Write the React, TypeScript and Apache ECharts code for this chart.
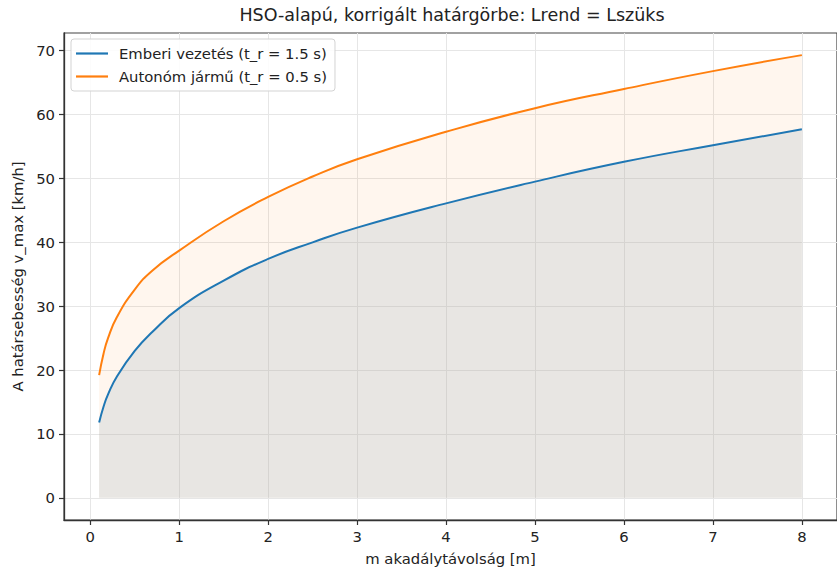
import React, { useEffect, useRef } from "react";
import * as echarts from "echarts";

// ---- data ----
const distances = [0.1, 0.15, 0.2, 0.3, 0.5, 0.7, 1, 1.5, 2, 2.5, 3, 4, 5, 6, 7, 8];
const humanSpeeds = [11.8, 14.3, 16.2, 19.0, 23.0, 26.0, 29.7, 34.0, 37.4, 40.0, 42.3, 46.1, 49.5, 52.6, 55.2, 57.7];
const autoSpeeds = [19.2, 22.6, 25.0, 28.3, 32.6, 35.6, 38.7, 43.3, 47.1, 50.3, 53.0, 57.3, 61.0, 64.0, 66.8, 69.3];
const xTicks = [0, 1, 2, 3, 4, 5, 6, 7, 8];
const yTicks = [0, 10, 20, 30, 40, 50, 60, 70];
const seriesNames = ["Emberi vezetés (t_r = 1.5 s)", "Autonóm jármű (t_r = 0.5 s)"];
const titleText = "HSO-alapú, korrigált határgörbe: Lrend = Lszüks";
const xName = "m akadálytávolság [m]";
const yName = "A határsebesség v_max [km/h]";
const xRange = [-0.295, 8.395];
const yRange = [-3.465, 72.765];

const FONT = "DejaVu Sans";
const TEXT = "#222";

export default function App() {
  const ref = useRef<HTMLDivElement>(null);
  useEffect(() => {
    if (!ref.current) return;
    const chart = echarts.init(ref.current, undefined, { renderer: "svg" });
    const human = distances.map((d, i) => [d, humanSpeeds[i]]);
    const auto = distances.map((d, i) => [d, autoSpeeds[i]]);
    const smooth = 0.5;
    const option: any = {
      animation: false,
      backgroundColor: "#ffffff",
      textStyle: { fontFamily: FONT },
      graphic: [
        {
          type: "text",
          x: 452,
          y: 6,
          style: {
            text: titleText,
            fontFamily: FONT,
            fontSize: 17.5,
            fill: TEXT,
            textAlign: "center",
            textVerticalAlign: "top",
          },
          z: 10,
        },
      ],
      grid: {
        left: 64,
        top: 33,
        right: -4,
        bottom: 51,
        show: true,
        borderColor: "#444",
        borderWidth: 1.2,
        backgroundColor: "transparent",
      },
      legend: {
        data: seriesNames,
        left: 71,
        top: 39,
        orient: "vertical",
        backgroundColor: "rgba(255,255,255,0.85)",
        borderColor: "#d3d3d3",
        borderWidth: 1,
        borderRadius: 3,
        padding: [7, 8, 7, 5],
        itemGap: 8,
        itemWidth: 32,
        itemHeight: 2.2,
        icon: "rect",
        textStyle: { fontFamily: FONT, fontSize: 14.8, color: TEXT, padding: [0, 0, 0, 6] },
      },
      xAxis: {
        type: "value",
        min: xRange[0],
        max: xRange[1],
        name: xName,
        nameLocation: "middle",
        nameGap: 31,
        nameTextStyle: { fontFamily: FONT, fontSize: 14.8, color: TEXT },
        axisLine: { show: true, onZero: false, lineStyle: { color: "#333", width: 1.3 } },
        axisTick: { show: true, customValues: xTicks, length: 5, lineStyle: { color: "#333", width: 1.2 } },
        axisLabel: { customValues: xTicks, fontFamily: FONT, fontSize: 14.8, color: TEXT, margin: 9 },
        splitLine: { show: true, lineStyle: { color: "#e6e6e6", width: 1 } },
      },
      yAxis: {
        type: "value",
        min: yRange[0],
        max: yRange[1],
        name: yName,
        nameLocation: "middle",
        nameGap: 38,
        nameTextStyle: { fontFamily: FONT, fontSize: 14.8, color: TEXT },
        axisLine: { show: true, onZero: false, lineStyle: { color: "#333", width: 1.3 } },
        axisTick: { show: true, customValues: yTicks, length: 5, lineStyle: { color: "#333", width: 1.2 } },
        axisLabel: { customValues: yTicks, fontFamily: FONT, fontSize: 14.8, color: TEXT, margin: 9 },
        splitLine: { show: true, lineStyle: { color: "#e6e6e6", width: 1 } },
      },
      series: [
        {
          name: "fill-auto",
          type: "line",
          data: auto,
          symbol: "none",
          smooth,
          silent: true,
          lineStyle: { width: 0 },
          areaStyle: { color: "rgba(255,127,14,0.1)", origin: 0 },
          z: 1,
        },
        {
          name: "fill-human",
          type: "line",
          data: human,
          symbol: "none",
          smooth,
          silent: true,
          lineStyle: { width: 0 },
          areaStyle: { color: "rgba(160,180,195,0.35)", origin: 0 },
          z: 2,
        },
        {
          name: seriesNames[0],
          type: "line",
          data: human,
          symbol: "none",
          smooth,
          lineStyle: { color: "#1f77b4", width: 2 },
          itemStyle: { color: "#1f77b4" },
          z: 3,
        },
        {
          name: seriesNames[1],
          type: "line",
          data: auto,
          symbol: "none",
          smooth,
          lineStyle: { color: "#ff7f0e", width: 2 },
          itemStyle: { color: "#ff7f0e" },
          z: 3,
        },
      ],
    };
    chart.setOption(option);
    return () => chart.dispose();
  }, []);
  return (
    <div
      ref={ref}
      style={{ position: "fixed", left: 0, top: 0, width: 837, height: 571, background: "#fff" }}
    />
  );
}
